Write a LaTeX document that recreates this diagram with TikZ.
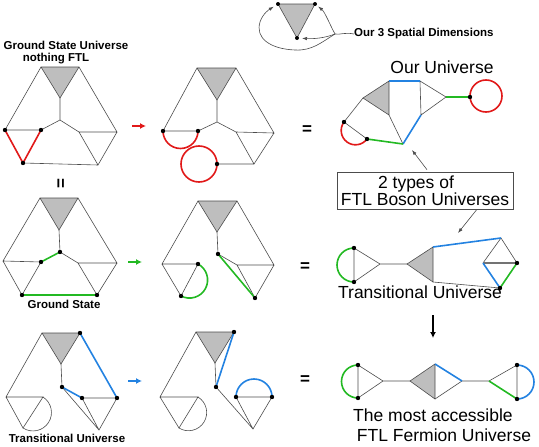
\documentclass[tikz,border=0pt]{standalone}
\usepackage{fontspec}
\setmainfont{Liberation Sans}
\usetikzlibrary{arrows.meta}

\definecolor{frred}{RGB}{225,25,25}
\definecolor{frgreen}{RGB}{35,185,35}
\definecolor{frblue}{RGB}{35,130,225}
\definecolor{trigray}{RGB}{190,190,190}

\tikzset{
  edge/.style={draw=black!70, line width=0.6pt},
  redline/.style={draw=frred, line width=1.6pt},
  greenline/.style={draw=frgreen, line width=1.6pt},
  blueline/.style={draw=frblue, line width=1.6pt},
  tri/.style={fill=trigray, draw=black!70, line width=0.6pt, line join=round},
  boldlabel/.style={font=\fontsize{11.5}{13}\selectfont\bfseries, inner sep=0pt},
  biglabel/.style={font=\fontsize{17.5}{15.5}\selectfont, inner sep=0pt},
  eqsign/.style={font=\fontsize{17}{18}\selectfont\bfseries, inner sep=0pt},
  movearrow/.style={line width=1.6pt, -{Latex[length=6pt,width=6pt]}},
}

\begin{document}
\begin{tikzpicture}[x=1pt,y=-1pt,>={Latex[length=5pt,width=3.5pt]}]
        \useasboundingbox (0,0) rectangle (539,447);

        % small sketch of the 3 spatial dimensions
        \coordinate (s1) at (278,4);
        \coordinate (s2) at (315,4);
        \coordinate (s3) at (297,38);
        \coordinate (sj) at (335,34);
        \draw[tri] (s1) -- (s2) -- (s3) -- cycle;
        \node[boldlabel, anchor=base west] (dims) at (354,37) {Our 3 Spatial Dimensions};
        \draw[edge] (dims.west) .. controls (345,32) and (340,35) .. (sj);
        \draw[edge,->,shorten >=4pt] (sj) .. controls (330,25) and (325,12) .. (s2);
        \draw[edge,->,shorten >=5pt] (sj) .. controls (325,38) and (314,39) .. (s3);
        \draw[edge,->,shorten >=5pt] (sj) .. controls (322,42) and (312,51) .. (295,50)
              .. controls (270,49) and (255,38) .. (260,22)
              .. controls (263,13) and (270,9) .. (s1);
        \foreach \p in {s1,s2,s3} \fill (\p) circle (2);

        % top row: ground state universe
        \node[boldlabel, anchor=base] (gsu) at (66,49) {Ground State Universe};
        \node[boldlabel, anchor=base] (nftl) at (56,61) {nothing FTL};
        \coordinate (a1) at (41,67);   \coordinate (a2) at (79,67);
        \coordinate (a3) at (60,98);   \coordinate (a4) at (60,120);
        \coordinate (a5) at (5,130);   \coordinate (a6) at (41,130);
        \coordinate (a7) at (23,163);  \coordinate (a8) at (98,165);
        \coordinate (a9) at (79,132);  \coordinate (a10) at (117,132);
        \draw[tri] (a1) -- (a2) -- (a3) -- cycle;
        \draw[edge] (a3) -- (a4) (a1) -- (a5) -- (a6) -- (a4) -- (a9) -- (a10) -- (a2)
                    (a9) -- (a8) -- (a10) (a7) -- (a8);
        \draw[redline] (a5) -- (a7) -- (a6);
        \foreach \p in {a5,a6,a7} \fill (\p) circle (2.2);

        \coordinate (ra) at (132,126); \coordinate (rb) at (146,126);
        \draw[movearrow, frred] (ra) -- (rb);

        % top row: after the red move
        \coordinate (b1) at (197,68);  \coordinate (b2) at (236,68);
        \coordinate (b3) at (217,100); \coordinate (b4) at (217,122);
        \coordinate (b5) at (163,131); \coordinate (b6) at (198,131);
        \coordinate (b8) at (254,164); \coordinate (b9) at (236,132);
        \coordinate (b10) at (274,133); \coordinate (b11) at (217,164);
        \draw[tri] (b1) -- (b2) -- (b3) -- cycle;
        \draw[edge] (b3) -- (b4) (b1) -- (b5) -- (b6) -- (b4) -- (b9) -- (b10) -- (b2)
                    (b9) -- (b8) -- (b10) (b11) -- (b8);
        \draw[redline] (b5) arc (180:0:17.5);
        \draw[redline] (199,164) circle (18);
        \foreach \p in {b5,b6,b11} \fill (\p) circle (2.2);

        \node[eqsign] (eq1) at (307,130) {=};

        % our universe
        \node[biglabel, anchor=base] (ouLabel) at (442,73) {Our Universe};
        \coordinate (u1) at (363,98);  \coordinate (u2) at (389,81);
        \coordinate (u3) at (389,115); \coordinate (u4) at (420,81);
        \coordinate (u5) at (421,115); \coordinate (u6) at (446,97);
        \coordinate (u7) at (470,97);  \coordinate (u8) at (403,144);
        \coordinate (u9) at (367,139); \coordinate (u10) at (344,122);
        \draw[tri] (u1) -- (u2) -- (u3) -- cycle;
        \draw[edge] (u4) -- (u5) -- (u6) -- (u4) (u3) -- (u8) (u1) -- (u10) -- (u9);
        \draw[blueline] (u2) -- (u4) (u5) -- (u8);
        \draw[greenline] (u6) -- (u7) (u8) -- (u9);
        \draw[redline] (u10) arc (216.5:36.5:14.3);
        \draw[redline] (486,96) circle (16);
        \foreach \p in {u7,u9,u10} \fill (\p) circle (2.2);

        % the two boson universes
        \node[eqsign, rotate=90] (eqv) at (62,183.5) {=};
        \node[draw=black!70, line width=0.6pt, biglabel, align=center,
              minimum width=176pt, minimum height=37pt] (box) at (425,190.5)
              {2 types of\hspace*{18pt}\\FTL Boson Universes};
        \coordinate (ouTip) at (412,150);
        \coordinate (trTip) at (458,233);
        \draw[edge,->] ([xshift=2pt,yshift=2pt]box.north) -- (ouTip);
        \draw[edge,->] ([xshift=52pt]box.south) -- (trTip);

        % middle row: ground state
        \coordinate (c1) at (40,198);  \coordinate (c2) at (78,198);
        \coordinate (c3) at (59,230);  \coordinate (c4) at (60,252);
        \coordinate (c5) at (3,261);   \coordinate (c6) at (41,262);
        \coordinate (c7) at (22,295);  \coordinate (c8) at (97,295);
        \coordinate (c9) at (78,263);  \coordinate (c10) at (117,263);
        \draw[tri] (c1) -- (c2) -- (c3) -- cycle;
        \draw[edge] (c3) -- (c4) (c1) -- (c5) -- (c6) -- (c7) -- (c5)
                    (c4) -- (c9) -- (c10) -- (c2) (c9) -- (c8) -- (c10);
        \draw[greenline] (c4) -- (c6) (c7) -- (c8);
        \foreach \p in {c4,c6,c7,c8} \fill (\p) circle (2.2);
        \node[boldlabel, anchor=base] (gsLabel) at (64,308.5) {Ground State};

        \coordinate (ga) at (128,262); \coordinate (gb) at (142,262);
        \draw[movearrow, frgreen] (ga) -- (gb);

        % middle row: after the green move
        \coordinate (d1) at (198,201); \coordinate (d2) at (237,201);
        \coordinate (d3) at (217,232); \coordinate (d4) at (218,254);
        \coordinate (d5) at (162,264); \coordinate (d6) at (198,264);
        \coordinate (d7) at (181,296); \coordinate (d8) at (255,298);
        \coordinate (d9) at (237,265); \coordinate (d10) at (274,265);
        \draw[tri] (d1) -- (d2) -- (d3) -- cycle;
        \draw[edge] (d3) -- (d4) -- (d9) -- (d10) -- (d2) (d9) -- (d8) -- (d10)
                    (d1) -- (d5) -- (d6) -- (d7) -- (d5);
        \draw[greenline] (d4) -- (d8);
        \draw[greenline] (d6) arc (-62:118:18.1);
        \foreach \p in {d4,d6,d7,d8} \fill (\p) circle (2.2);

        \node[eqsign] (eq2) at (305,267) {=};

        % transitional universe
        \coordinate (t1) at (354,248); \coordinate (t2) at (354,282);
        \coordinate (t3) at (380,264); \coordinate (t4) at (407,264);
        \coordinate (t5) at (433,247); \coordinate (t6) at (433,282);
        \coordinate (t7) at (501,238); \coordinate (t8) at (517,263);
        \coordinate (t9) at (500,288); \coordinate (t10) at (483,263);
        \draw[tri] (t4) -- (t5) -- (t6) -- cycle;
        \draw[edge] (t1) -- (t2) -- (t3) -- (t1) (t3) -- (t4) (t6) -- (t9)
                    (t10) -- (t7) -- (t8);
        \draw[draw=black!55, line width=1.6pt] (t10) -- (t8);
        \draw[blueline] (t5) -- (t7) (t10) -- (t9);
        \draw[greenline] (t9) -- (t8);
        \draw[greenline] (t1) arc (270:90:17);
        \foreach \p in {t1,t2,t8,t9} \fill (\p) circle (2.2);
        \node[biglabel, anchor=base] (trLabel) at (420,298) {Transitional Universe};

        \coordinate (da) at (433,315); \coordinate (db) at (433,338);
        \draw[movearrow] (da) -- (db);

        % bottom row: transitional universe
        \coordinate (e1) at (42,333);  \coordinate (e2) at (80,333);
        \coordinate (e3) at (61,364);  \coordinate (e4) at (62,387);
        \coordinate (e5) at (82,398);  \coordinate (e6) at (117,398);
        \coordinate (e7) at (99,430);  \coordinate (e8) at (6,397);
        \coordinate (e9) at (43,397);  \coordinate (e10) at (23,428);
        \draw[tri] (e1) -- (e2) -- (e3) -- cycle;
        \draw[edge] (e3) -- (e4) -- (e7) (e5) -- (e6) -- (e7) -- (e5)
                    (e1) -- (e8) -- (e9) -- (e10) -- (e8);
        \draw[edge] (e9) arc (-57.2:122.8:18.45);
        \draw[blueline] (e4) -- (e5) (e2) -- (e6);
        \foreach \p in {e2,e4,e5,e6} \fill (\p) circle (2.2);
        \node[boldlabel, anchor=base] (tuLabel) at (67,442) {Transitional Universe};

        \coordinate (ba) at (128,381); \coordinate (bb) at (142,381);
        \draw[movearrow, frblue] (ba) -- (bb);

        % bottom row: after the blue move
        \coordinate (f1) at (196,332); \coordinate (f2) at (234,332);
        \coordinate (f3) at (215,363); \coordinate (f4) at (216,387);
        \coordinate (f5) at (253,429); \coordinate (f6) at (236,397);
        \coordinate (f7) at (272,397); \coordinate (f8) at (160,397);
        \coordinate (f9) at (198,397); \coordinate (f10) at (179,428);
        \draw[tri] (f1) -- (f2) -- (f3) -- cycle;
        \draw[edge] (f3) -- (f4) -- (f5) (f6) -- (f7) -- (f5) -- (f6)
                    (f1) -- (f8) -- (f9) -- (f10) -- (f8);
        \draw[edge] (f9) arc (-58.5:121.5:18.2);
        \draw[blueline] (f4) -- (f2);
        \draw[blueline] (f6) arc (180:360:18);
        \foreach \p in {f2,f4,f6,f7} \fill (\p) circle (2.2);

        \node[eqsign] (eq3) at (305,380) {=};

        % the most accessible fermion universe
        \coordinate (h1) at (358,365); \coordinate (h2) at (358,398);
        \coordinate (h3) at (383,381); \coordinate (h4) at (410,381);
        \coordinate (h5) at (435,364); \coordinate (h6) at (435,399);
        \coordinate (h7) at (462,381); \coordinate (h8) at (489,381);
        \coordinate (h9) at (517,365); \coordinate (h10) at (517,399);
        \draw[tri] (h4) -- (h5) -- (h6) -- cycle;
        \draw[edge] (h1) -- (h2) -- (h3) -- (h1) (h3) -- (h4) (h6) -- (h7) -- (h8)
                    (h8) -- (h9) -- (h10);
        \draw[blueline] (h5) -- (h7);
        \draw[greenline] (h8) -- (h10);
        \draw[greenline] (h1) arc (270:90:16.5);
        \draw[blueline] (h9) arc (-90:90:17);
        \foreach \p in {h1,h2,h9,h10} \fill (\p) circle (2.2);
        \node[biglabel, anchor=base] (fmLabel1) at (433,421) {The most accessible};
        \node[biglabel, anchor=base] (fmLabel2) at (444,441) {FTL Fermion Universe};
\end{tikzpicture}
\end{document}
